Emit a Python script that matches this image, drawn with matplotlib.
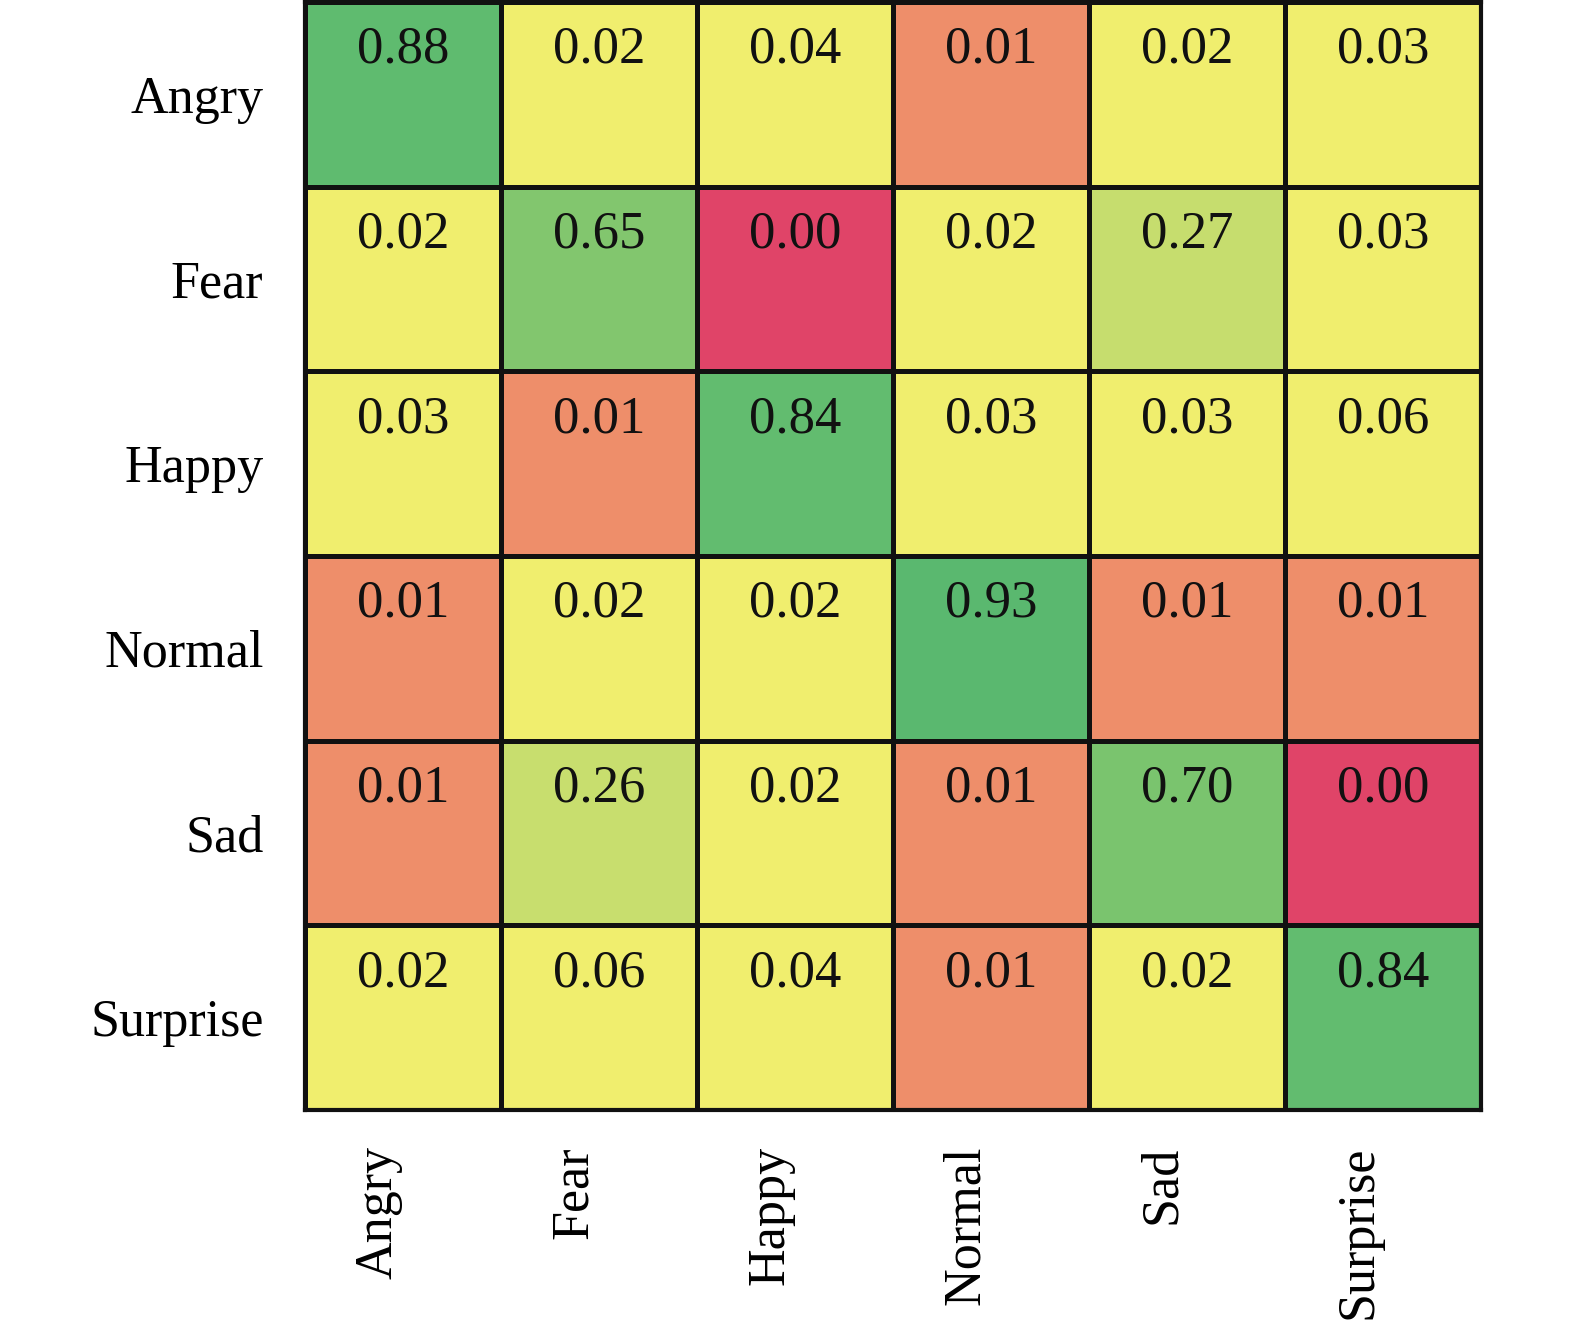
import numpy as np
import matplotlib.pyplot as plt
import matplotlib.transforms as mtransforms
from matplotlib.colors import LinearSegmentedColormap

labels = ["Angry", "Fear", "Happy", "Normal", "Sad", "Surprise"]
matrix = np.array([
    [0.88, 0.02, 0.04, 0.01, 0.02, 0.03],
    [0.02, 0.65, 0.00, 0.02, 0.27, 0.03],
    [0.03, 0.01, 0.84, 0.03, 0.03, 0.06],
    [0.01, 0.02, 0.02, 0.93, 0.01, 0.01],
    [0.01, 0.26, 0.02, 0.01, 0.70, 0.00],
    [0.02, 0.06, 0.04, 0.01, 0.02, 0.84],
])

# nonlinear colour scale: red at 0, salmon at 0.01, yellow for small values, green for high
cmap = LinearSegmentedColormap.from_list("cm", [
    (0.0, "#e04468"),
    (0.004, "#e04468"),
    (0.008, "#ee8e6a"),
    (0.013, "#ee8e6a"),
    (0.018, "#f0ee6e"),
    (0.06, "#f0ee6e"),
    (0.27, "#c6dd6e"),
    (0.65, "#82c66e"),
    (0.70, "#7ac46e"),
    (0.84, "#62bc6f"),
    (0.88, "#5fbb6f"),
    (1.0, "#52b56e"),
], N=4096)

plt.rcParams['font.family'] = ['Liberation Serif', 'DejaVu Serif']

fig = plt.figure(figsize=(15.75, 13.25), dpi=100)
ax = fig.add_axes([0.1937, 0.1623, 0.7467, 0.8362])

n = len(labels)
ax.pcolormesh(np.arange(n + 1), np.arange(n + 1), matrix, cmap=cmap,
              vmin=0, vmax=1, edgecolors="#111111", linewidth=2.5)
ax.set_xlim(0, n)
ax.set_ylim(n, 0)

for i in range(n):
    for j in range(n):
        ax.text(j + 0.5, i + 0.26, f"{matrix[i, j]:.2f}", ha="center",
                va="center", fontsize=38, color="#111111")

ax.set_xticks(np.arange(n) + 0.5)
ax.set_yticks(np.arange(n) + 0.5)
ax.set_xticklabels(labels, rotation=90, fontsize=37.5)
ax.set_yticklabels(labels, fontsize=37.5)
ax.tick_params(length=0, pad=30)
ax.tick_params(axis="x", pad=26)

shift = mtransforms.ScaledTranslation(-0.25, 0, fig.dpi_scale_trans)
for lab in ax.get_xticklabels():
    lab.set_transform(lab.get_transform() + shift)

for s in ax.spines.values():
    s.set_linewidth(3)
    s.set_color("#111111")

fig.savefig("out.png", dpi=100)
